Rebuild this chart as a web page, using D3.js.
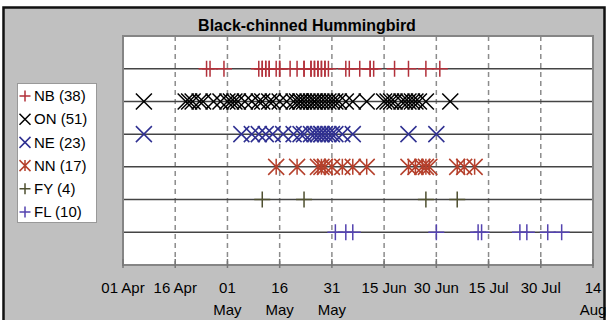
<!DOCTYPE html>
<html>
<head>
<meta charset="utf-8">
<script src="https://cdn.jsdelivr.net/npm/d3@7"></script>
<style>
body { margin: 0; background: #fff; }
text { font-family: Arial, "Liberation Sans", sans-serif; fill: #000; }
</style>
</head>
<body>
<script>
// sighting dates per record type (month-day)
var categories = ["NB", "ON", "NE", "NN", "FY", "FL"];

var nbDates = ["04-25", "04-26", "04-30", "05-10", "05-11", "05-11", "05-12", "05-12", "05-13", "05-13",
    "05-15", "05-16", "05-16", "05-19", "05-21", "05-23", "05-23", "05-25", "05-25", "05-26",
    "05-26", "05-27", "05-27", "05-28", "05-28", "05-29", "05-29", "05-30", "06-04", "06-05",
    "06-08", "06-11", "06-11", "06-12", "06-18", "06-22", "06-27", "07-01"];

var onDates = ["04-07", "04-19", "04-20", "04-21", "04-23", "04-24", "04-27", "04-29", "05-01", "05-02",
    "05-03", "05-04", "05-06", "05-08", "05-10", "05-11", "05-13", "05-14", "05-16", "05-18",
    "05-20", "05-21", "05-22", "05-22", "05-23", "05-24", "05-25", "05-26", "05-26", "05-27",
    "05-28", "05-29", "05-30", "05-31", "06-01", "06-02", "06-04", "06-06", "06-10", "06-15",
    "06-16", "06-17", "06-18", "06-20", "06-21", "06-22", "06-23", "06-24", "06-25", "06-27",
    "07-04"];

var neDates = ["04-07", "05-05", "05-08", "05-10", "05-12", "05-14", "05-17", "05-20", "05-22", "05-23",
    "05-25", "05-26", "05-27", "05-28", "05-28", "05-29", "05-30", "05-31", "06-01", "06-03",
    "06-06", "06-22", "06-30"];

var nnDates = ["05-15", "05-21", "05-27", "05-28", "05-29", "05-31", "06-03", "06-06", "06-10", "06-22",
    "06-24", "06-26", "06-27", "06-28", "07-06", "07-08", "07-11"];

var fyDates = ["05-11", "05-23", "06-27", "07-06"];

var flDates = ["06-01", "06-04", "06-06", "06-30", "07-12", "07-13", "07-24", "07-26", "08-01", "08-05"];

var tickDates = ["04-01", "04-16", "05-01", "05-16", "05-31", "06-15", "06-30", "07-15", "07-30", "08-14"];
var tickLabels = [["01 Apr"], ["16 Apr"], ["01", "May"], ["16", "May"], ["31", "May"],
    ["15 Jun"], ["30 Jun"], ["15 Jul"], ["30 Jul"], ["14", "Aug"]];

var seriesData = [nbDates, onDates, neDates, nnDates, fyDates, flDates];

// marker look for each series
var styles = {
    NB: { shape: "plus", color: "#b2303a" },
    ON: { shape: "cross", color: "#000000" },
    NE: { shape: "cross", color: "#2f3091" },
    NN: { shape: "star", color: "#b5402c" },
    FY: { shape: "plus", color: "#4f5030" },
    FL: { shape: "plus", color: "#5443b0" }
};

function markerPath(shape, h) {
    if (shape == "plus") return `M${-h},0H${h}M0,${-h}V${h}`;
    if (shape == "cross") return `M${-h},${-h}L${h},${h}M${-h},${h}L${h},${-h}`;
    return `M${-h},${-h}L${h},${h}M${-h},${h}L${h},${-h}M0,${-h}V${h}`;
}

var parse = d3.utcParse("%m-%d");
var W = 610, H = 320;
var plot = { left: 123, right: 593, top: 36, bottom: 265 };

var svg = d3.select("body").append("svg")
    .attr("width", W)
    .attr("height", H);

// outer chart frame
svg.append("rect")
    .attr("x", 3.5).attr("y", 7.5)
    .attr("width", 601).attr("height", 330)
    .attr("fill", "#c0c0c0")
    .attr("stroke", "#111")
    .attr("stroke-width", 2.5);

svg.append("text")
    .attr("x", 307).attr("y", 31)
    .attr("text-anchor", "middle")
    .attr("font-size", "16px")
    .attr("font-weight", "bold")
    .text("Black-chinned Hummingbird");

var x = d3.scaleUtc()
    .domain([parse("04-01"), parse("08-14")])
    .range([plot.left, plot.right]);

var y = d3.scalePoint()
    .domain(categories)
    .range([plot.top, plot.bottom])
    .padding(1);

svg.append("rect")
    .attr("x", plot.left).attr("y", plot.top)
    .attr("width", plot.right - plot.left)
    .attr("height", plot.bottom - plot.top)
    .attr("fill", "#fff");

// dashed gridlines
svg.append("g")
    .selectAll("line")
    .data(tickDates.slice(1, -1))
    .enter()
    .append("line")
    .attr("x1", (d) => x(parse(d)))
    .attr("x2", (d) => x(parse(d)))
    .attr("y1", plot.top)
    .attr("y2", plot.bottom)
    .attr("stroke", "#8c8c8c")
    .attr("stroke-width", 1.5)
    .attr("stroke-dasharray", "5,4");

// row baselines
svg.append("g")
    .selectAll("line")
    .data(categories)
    .enter()
    .append("line")
    .attr("x1", plot.left)
    .attr("x2", plot.right)
    .attr("y1", (d) => y(d))
    .attr("y2", (d) => y(d))
    .attr("stroke", "#444")
    .attr("stroke-width", 1.5);

categories.forEach((cat, i) => {
    var st = styles[cat];
    svg.append("g")
        .selectAll("path")
        .data(seriesData[i])
        .enter()
        .append("path")
        .attr("d", markerPath(st.shape, 8))
        .attr("transform", (d) => `translate(${x(parse(d))},${y(cat)})`)
        .attr("fill", "none")
        .attr("stroke", st.color)
        .attr("stroke-width", 1.5);
});

svg.append("rect")
    .attr("x", plot.left).attr("y", plot.top)
    .attr("width", plot.right - plot.left)
    .attr("height", plot.bottom - plot.top)
    .attr("fill", "none")
    .attr("stroke", "#858585")
    .attr("stroke-width", 2);

// x axis tick labels (some wrap onto two lines)
var axis = svg.append("g");
axis.selectAll("line")
    .data(tickDates)
    .enter()
    .append("line")
    .attr("x1", (d) => x(parse(d)))
    .attr("x2", (d) => x(parse(d)))
    .attr("y1", plot.bottom - 6)
    .attr("y2", plot.bottom + 3)
    .attr("stroke", "#777")
    .attr("stroke-width", 1.5);

var labels = axis.selectAll("text")
    .data(tickDates)
    .enter()
    .append("text")
    .attr("text-anchor", "middle")
    .attr("font-size", "15px")
    .attr("transform", (d) => `translate(${x(parse(d))},0)`);

labels.selectAll("tspan")
    .data((d, i) => tickLabels[i])
    .enter()
    .append("tspan")
    .attr("x", 0)
    .attr("y", (d, j) => 293 + j * 22)
    .text((d) => d);

// legend
var legend = svg.append("g");
legend.append("rect")
    .attr("x", 17.5).attr("y", 83.5)
    .attr("width", 79).attr("height", 139)
    .attr("fill", "#fff")
    .attr("stroke", "#999");

categories.forEach((cat, i) => {
    var ly = 96 + i * 23.2;
    legend.append("path")
        .attr("d", markerPath(styles[cat].shape, 5.5))
        .attr("transform", `translate(25,${ly})`)
        .attr("fill", "none")
        .attr("stroke", styles[cat].color)
        .attr("stroke-width", 1.5);
    legend.append("text")
        .attr("x", 34)
        .attr("y", ly)
        .attr("dy", "0.35em")
        .attr("font-size", "15px")
        .text(`${cat} (${seriesData[i].length})`);
});
</script>
</body>
</html>
